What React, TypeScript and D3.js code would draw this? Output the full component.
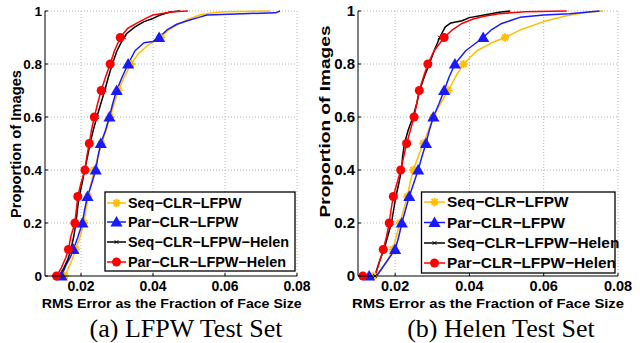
import React from 'react';
import * as d3 from 'd3';

// [rms error, proportion of images]
const lfpwSeq = [[0.0155,0],[0.0165,0.03],[0.0175,0.06],[0.0185,0.1],[0.0198,0.15],[0.0208,0.2],[0.0214,0.25],[0.022,0.3],[0.0228,0.35],[0.0237,0.4],[0.0247,0.45],[0.0257,0.5],[0.027,0.55],[0.0281,0.6],[0.0292,0.65],[0.0304,0.7],[0.032,0.75],[0.0339,0.8],[0.036,0.84],[0.0385,0.87],[0.041,0.89],[0.0422,0.9],[0.0445,0.93],[0.047,0.95],[0.05,0.97],[0.053,0.985],[0.0558,0.992],[0.06,0.997],[0.0725,1]];
const lfpwPar = [[0.0146,0],[0.0158,0.04],[0.017,0.07],[0.0179,0.1],[0.0192,0.15],[0.0204,0.2],[0.021,0.25],[0.0218,0.3],[0.023,0.35],[0.0241,0.4],[0.0247,0.45],[0.0255,0.5],[0.0268,0.55],[0.0279,0.6],[0.0288,0.65],[0.0299,0.7],[0.0314,0.75],[0.0331,0.8],[0.035,0.85],[0.0375,0.88],[0.04,0.885],[0.0417,0.9],[0.044,0.93],[0.0466,0.95],[0.05,0.965],[0.0525,0.975],[0.055,0.985],[0.065,0.99],[0.074,0.993],[0.0753,1]];
const lfpwSeqHelen = [[0.014,0],[0.0152,0.03],[0.0163,0.06],[0.0172,0.1],[0.018,0.15],[0.0186,0.2],[0.019,0.25],[0.0195,0.3],[0.0203,0.35],[0.021,0.4],[0.0218,0.45],[0.0225,0.5],[0.0234,0.55],[0.0244,0.6],[0.0255,0.65],[0.0266,0.7],[0.0276,0.75],[0.0287,0.8],[0.03,0.85],[0.0315,0.89],[0.0327,0.915],[0.035,0.94],[0.0375,0.96],[0.04,0.972],[0.042,0.985],[0.0447,0.996],[0.0475,1]];
const lfpwParHelen = [[0.0132,0],[0.0145,0.03],[0.0158,0.07],[0.0165,0.1],[0.0172,0.15],[0.0183,0.2],[0.0187,0.25],[0.0191,0.3],[0.02,0.35],[0.0211,0.4],[0.0216,0.45],[0.0223,0.5],[0.0229,0.55],[0.0237,0.6],[0.0246,0.65],[0.0256,0.7],[0.0268,0.75],[0.0281,0.8],[0.0293,0.85],[0.0309,0.9],[0.033,0.935],[0.0355,0.954],[0.038,0.972],[0.04,0.985],[0.0456,0.997],[0.0497,1]];

const helenSeq = [[0.0141,0],[0.016,0.02],[0.018,0.06],[0.0194,0.1],[0.0203,0.15],[0.0213,0.2],[0.0223,0.25],[0.0233,0.3],[0.024,0.35],[0.0249,0.4],[0.0262,0.45],[0.0276,0.5],[0.029,0.55],[0.0303,0.6],[0.0322,0.65],[0.0343,0.7],[0.0362,0.75],[0.0384,0.8],[0.042,0.85],[0.046,0.88],[0.0496,0.9],[0.0536,0.928],[0.06,0.96],[0.0655,0.98],[0.0716,0.995],[0.076,1]];
const helenPar = [[0.013,0],[0.015,0],[0.016,0.02],[0.0175,0.05],[0.02,0.1],[0.021,0.15],[0.0218,0.2],[0.0228,0.25],[0.0238,0.3],[0.025,0.35],[0.0262,0.4],[0.0272,0.45],[0.0283,0.5],[0.0292,0.55],[0.0303,0.6],[0.0318,0.65],[0.0332,0.7],[0.0345,0.75],[0.0361,0.8],[0.039,0.85],[0.0437,0.9],[0.046,0.93],[0.0487,0.953],[0.0536,0.976],[0.06,0.985],[0.067,0.99],[0.075,1]];
const helenSeqHelen = [[0.0146,0],[0.0152,0.03],[0.0159,0.06],[0.017,0.1],[0.018,0.15],[0.019,0.2],[0.0196,0.25],[0.0202,0.3],[0.021,0.35],[0.0217,0.4],[0.022,0.45],[0.0225,0.5],[0.0235,0.55],[0.0248,0.6],[0.0258,0.65],[0.0266,0.7],[0.0278,0.75],[0.0292,0.8],[0.0305,0.85],[0.032,0.9],[0.0335,0.94],[0.035,0.955],[0.038,0.963],[0.04,0.975],[0.044,0.985],[0.048,0.995],[0.051,1]];
const helenParHelen = [[0.0113,0],[0.0145,0],[0.0155,0.04],[0.0168,0.1],[0.0177,0.15],[0.0184,0.2],[0.0189,0.25],[0.0195,0.3],[0.0205,0.35],[0.0215,0.4],[0.0223,0.45],[0.0231,0.5],[0.0241,0.55],[0.0251,0.6],[0.0258,0.65],[0.0265,0.7],[0.0276,0.75],[0.0288,0.8],[0.0305,0.85],[0.0332,0.9],[0.0355,0.93],[0.038,0.953],[0.041,0.97],[0.044,0.98],[0.048,0.99],[0.055,0.997],[0.0662,1]];

const seriesNames = ['Seq\u2212CLR\u2212LFPW', 'Par\u2212CLR\u2212LFPW', 'Seq\u2212CLR\u2212LFPW\u2212Helen', 'Par\u2212CLR\u2212LFPW\u2212Helen'];
const seriesColors = ['#ffbf00', '#1a1aff', '#000000', '#ff0000'];
const seriesMarkers = ['star', 'triangle', 'x', 'circle'];
const markerLevels = [0, 0.1, 0.2, 0.3, 0.4, 0.5, 0.6, 0.7, 0.8, 0.9];
const xTicks = [0.02, 0.04, 0.06, 0.08];
const yTicks = [0, 0.2, 0.4, 0.6, 0.8, 1];
const yTickLabels = ['0', '0.2', '0.4', '0.6', '0.8', '1'];

const panels = [
  { caption: '(a) LFPW Test Set', data: [lfpwSeq, lfpwPar, lfpwSeqHelen, lfpwParHelen],
    x0: 45, x1: 297, y0: 276, y1: 11, cx: 186, xlabW: 260, xlabC: 171.7, ylabX: 20.5, ylabY: 144, ylabW: 148, ytFont: 13.5, xtFont: 14, legFont: 14.4,
    leg: { x: 105, y: 192, w: 190, h: 79, rows: [203, 222, 242, 262], l0: 107, l1: 126, tx: 128 } },
  { caption: '(b) Helen Test Set', data: [helenSeq, helenPar, helenSeqHelen, helenParHelen],
    x0: 358, x1: 618, y0: 276, y1: 11, cx: 501, xlabW: 272, xlabC: 488, ylabX: 330, ylabY: 121.5, ylabW: 192, ytFont: 15, xtFont: 14.5, legFont: 15.4,
    leg: { x: 421.5, y: 192, w: 193.5, h: 81, rows: [202, 222.5, 243, 263], l0: 424, l1: 445, tx: 447 } },
];

const xAt = (s: number[][], level: number) => {
  for (let i = 0; i < s.length - 1; i++) {
    const [xa, ya] = s[i], [xb, yb] = s[i + 1];
    if (ya <= level && level <= yb) {
      if (yb === ya) return xa;
      return xa + (xb - xa) * (level - ya) / (yb - ya);
    }
  }
  return s[s.length - 1][0];
};

const Marker = ({ kind, x, y, color }: { kind: string; x: number; y: number; color: string }) => {
  if (kind === 'circle') return <circle cx={x} cy={y} r={4.5} fill={color} />;
  if (kind === 'triangle') {
    const p = d3.symbol(d3.symbolTriangle, 64)();
    return <path d={p || ''} transform={`translate(${x},${y + 1})`} fill={color} />;
  }
  if (kind === 'star') {
    const r = 4.2;
    return (
      <g transform={`translate(${x},${y})`} stroke={color} strokeWidth={2}>
        <line x1={-r} y1={0} x2={r} y2={0} />
        <line x1={0} y1={-r} x2={0} y2={r} />
        <line x1={-r * 0.7} y1={-r * 0.7} x2={r * 0.7} y2={r * 0.7} />
        <line x1={-r * 0.7} y1={r * 0.7} x2={r * 0.7} y2={-r * 0.7} />
      </g>
    );
  }
  const r = 1.8;
  return (
    <g transform={`translate(${x},${y})`} stroke={color} strokeWidth={1}>
      <line x1={-r} y1={-r} x2={r} y2={r} />
      <line x1={-r} y1={r} x2={r} y2={-r} />
    </g>
  );
};

const Panel = ({ p }: { p: typeof panels[number] }) => {
  const x = d3.scaleLinear().domain([0.01, 0.08]).range([p.x0, p.x1]);
  const y = d3.scaleLinear().domain([0, 1]).range([p.y0, p.y1]);
  const line = d3.line<number[]>().x(d => x(d[0])).y(d => y(d[1]));
  const sans = '"Liberation Sans", Arial, sans-serif';
  return (
    <g>
      {/* dotted grid */}
      <g stroke="#b4b4b4" strokeWidth={1} strokeDasharray="1,2">
        {xTicks.map(t => <line key={'gx' + t} x1={x(t)} x2={x(t)} y1={p.y0} y2={p.y1} />)}
        {yTicks.filter(t => t > 0).map(t => <line key={'gy' + t} x1={p.x0} x2={p.x1} y1={y(t)} y2={y(t)} />)}
      </g>
      {/* curves */}
      {p.data.map((s, i) => (
        <path key={'l' + i} d={line(s) || ''} fill="none" stroke={seriesColors[i]} strokeWidth={1.5} strokeLinejoin="round" />
      ))}
      {p.data.map((s, i) => markerLevels.map(lv => (
        <Marker key={'m' + i + lv} kind={seriesMarkers[i]} x={x(xAt(s, lv))} y={y(lv)} color={seriesColors[i]} />
      )))}
      {/* axes */}
      <line x1={p.x0} x2={p.x1} y1={p.y0} y2={p.y0} stroke="#000" strokeWidth={1} />
      <line x1={p.x0} x2={p.x0} y1={p.y0} y2={p.y1} stroke="#000" strokeWidth={1} />
      {xTicks.map(t => <line key={'tx' + t} x1={x(t)} x2={x(t)} y1={p.y0} y2={p.y0 - 3} stroke="#000" />)}
      {yTicks.map(t => <line key={'ty' + t} x1={p.x0} x2={p.x0 + 3} y1={y(t)} y2={y(t)} stroke="#000" />)}
      <g fontFamily={sans} fontWeight="bold" fill="#000">
        {xTicks.map(t => (
          <text key={'xl' + t} x={x(t)} y={290.5} textAnchor="middle" fontSize={p.xtFont}>{d3.format('.2f')(t)}</text>
        ))}
        {yTicks.map((t, i) => (
          <text key={'yl' + t} x={p.x0 - 3} y={y(t) + 5} textAnchor="end" fontSize={p.ytFont}>{yTickLabels[i]}</text>
        ))}
        <text x={p.xlabC} y={307.5} textAnchor="middle" fontSize={13.5} textLength={p.xlabW} lengthAdjust="spacingAndGlyphs">
          RMS Error as the Fraction of Face Size
        </text>
        <text transform={`translate(${p.ylabX},${p.ylabY}) rotate(-90)`} textAnchor="middle" fontSize={15} textLength={p.ylabW} lengthAdjust="spacingAndGlyphs">
          Proportion of Images
        </text>
      </g>
      {/* legend */}
      <rect x={p.leg.x} y={p.leg.y} width={p.leg.w} height={p.leg.h} fill="#fff" stroke="#000" strokeWidth={1.3} />
      {seriesNames.map((n, i) => (
        <g key={'lg' + i}>
          <line x1={p.leg.l0} x2={p.leg.l1} y1={p.leg.rows[i]} y2={p.leg.rows[i]} stroke={seriesColors[i]} strokeWidth={1.5} />
          <Marker kind={seriesMarkers[i]} x={(p.leg.l0 + p.leg.l1) / 2} y={p.leg.rows[i]} color={seriesColors[i]} />
          <text x={p.leg.tx} y={p.leg.rows[i] + 5} fontFamily={sans} fontWeight="bold" fontSize={p.legFont}>{n}</text>
        </g>
      ))}
      <text x={p.cx} y={337} textAnchor="middle" fontFamily='"Liberation Serif", "Times New Roman", serif' fontSize={26}>
        {p.caption}
      </text>
    </g>
  );
};

export default function App() {
  return (
    <svg width={640} height={343} style={{ position: 'absolute', left: 0, top: 0, background: '#fff' }}>
      {panels.map(p => <Panel key={p.caption} p={p} />)}
    </svg>
  );
}
